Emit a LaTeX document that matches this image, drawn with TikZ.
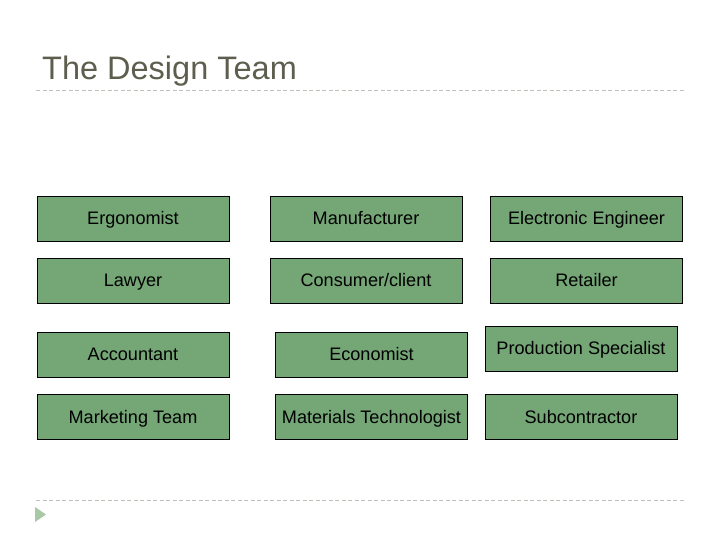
\documentclass[tikz,border=0pt]{standalone}
\usepackage{fontspec}
\setmainfont{Liberation Sans}
\definecolor{boxgreen}{HTML}{74A676}
\definecolor{titlegray}{HTML}{5E5E4E}
\definecolor{rulegray}{HTML}{C0C0B8}
\definecolor{arrowgreen}{HTML}{A9C8A6}
\begin{document}
\begin{tikzpicture}[x=1pt,y=-1pt,
  rolebox/.style={draw=black, line width=0.9pt, fill=boxgreen, minimum width=192pt, minimum height=45pt, inner sep=0pt, text height=12pt, text depth=0pt, font=\fontsize{18.1pt}{21pt}\selectfont, text=black},
  sep/.style={draw=rulegray, dashed, dash pattern=on 4pt off 2.5pt, line width=0.8pt}]
\useasboundingbox (0,0) rectangle (720,540);
\node[anchor=base west, text=titlegray, font=\fontsize{32.5pt}{38pt}\selectfont, inner sep=0pt] (title) at (42,80) {The Design Team};
\coordinate (t1) at (36,90); \coordinate (t2) at (685,90);
\draw[sep] (t1) -- (t2);
\coordinate (b1) at (36,500); \coordinate (b2) at (685,500);
\draw[sep] (b1) -- (b2);
\fill[arrowgreen] (35,507) -- (46,514.5) -- (35,522) -- cycle;
\node[rolebox] (erg) at (133,218.5) {Ergonomist};
\node[rolebox] (man) at (366,218.5) {Manufacturer};
\node[rolebox] (ele) at (586.5,218.5) {Electronic Engineer};
\node[rolebox] (law) at (133,280.5) {Lawyer};
\node[rolebox] (con) at (366,280.5) {Consumer/client};
\node[rolebox] (ret) at (586.5,280.5) {Retailer};
\node[rolebox] (acc) at (133,354.5) {Accountant};
\node[rolebox] (eco) at (371.5,354.5) {Economist};
\node[rolebox] (pro) at (581,348.5) {Production Specialist};
\node[rolebox] (mkt) at (133,417) {Marketing Team};
\node[rolebox] (mat) at (371.5,417) {Materials Technologist};
\node[rolebox] (sub) at (581,417) {Subcontractor};
\end{tikzpicture}
\end{document}
